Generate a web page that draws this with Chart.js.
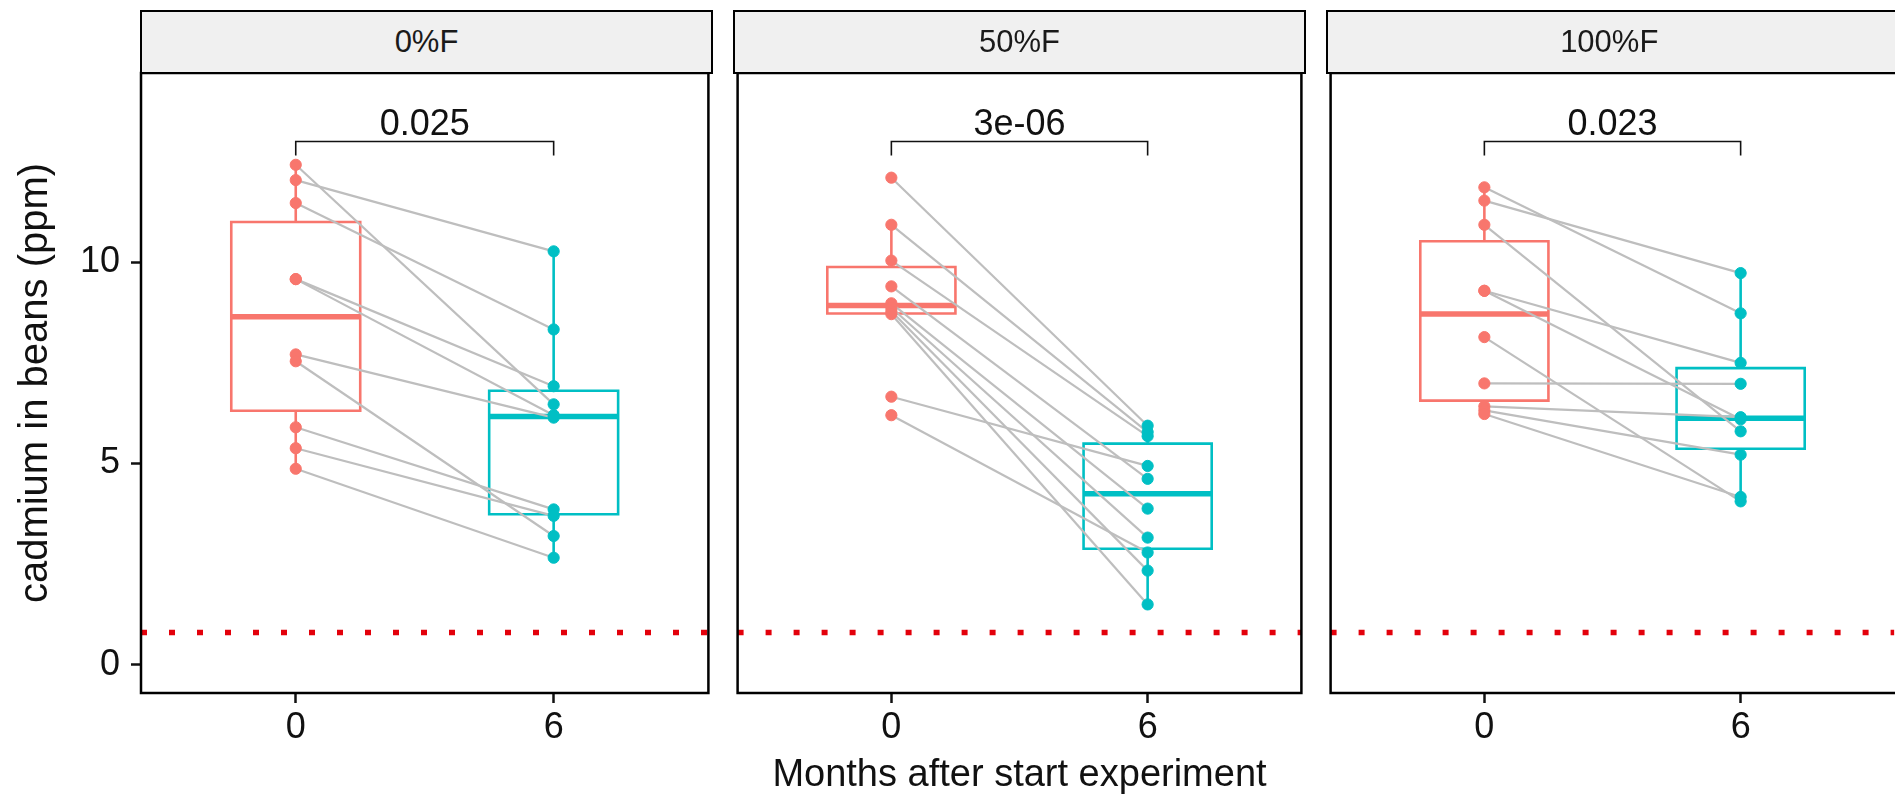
<!DOCTYPE html>
<html>
<head>
<meta charset="utf-8">
<script src="https://cdn.jsdelivr.net/npm/chart.js@4.4.1/dist/chart.umd.min.js"></script>
<style>
  html, body { margin: 0; padding: 0; background: #fff; overflow: hidden; }
  body { width: 1895px; height: 799px; position: relative; font-family: 'Liberation Sans', Arial, sans-serif; }
  .wrap { position: absolute; top: 0; height: 799px; overflow: hidden; }
  .wrap canvas { position: absolute; top: 0; left: 0; }
  .strip { position: absolute; top: 9.75px; height: 64.5px; box-sizing: border-box; border: 2.5px solid #000;
           background: #f0f0f0; display: flex; align-items: center; justify-content: center; font-size: 31px; color: #1a1a1a; z-index: 2; }
  #xtitle { position: absolute; top: 754px; left: 519.5px; width: 1000px; text-align: center; font-size: 38px; line-height: 38px; color: #111; z-index: 2; }
</style>
</head>
<body>
<div id="xtitle">Months after start experiment</div>
<script>
// facets, groups and ticks
const groups = ['0%F', '50%F', '100%F'];
const months = ['0', '6'];
const yTicks = [0, 5, 10];

// paired values (same index = same plant)
const before0 = [12.42, 12.04, 11.47, 9.58, 9.58, 7.71, 7.54, 5.90, 5.38, 4.87];
const after0 = [6.47, 10.27, 8.33, 6.92, 6.20, 6.14, 3.20, 3.86, 3.70, 2.66];
const before50 = [12.10, 10.93, 10.04, 9.40, 8.98, 8.87, 8.78, 8.71, 6.66, 6.20];
const after50 = [5.94, 5.78, 5.68, 4.62, 3.88, 3.16, 2.34, 1.50, 4.94, 2.79];
const before100 = [11.86, 11.53, 10.93, 9.29, 9.29, 8.14, 6.99, 6.42, 6.32, 6.23];
const after100 = [8.73, 9.73, 5.80, 7.50, 6.10, 4.06, 6.98, 6.15, 5.22, 4.17];

const pLabels = ['0.025', '3e-06', '0.023'];
const bracketY = 13.0;
const bracketTip = 12.65;
const limitLine = 0.8;

const beforeAll = [before0, before50, before100];
const afterAll = [after0, after50, after100];

const colors = ['#F8766D', '#00BFC4'];
const FONT = "'Liberation Sans', Arial, sans-serif";
const PAGE_W = 1895;
const panelLeft = [141, 734, 1327];
const panelW = 571;

function quantile(arr, p) {
  const s = [...arr].sort((a, b) => a - b);
  const h = (s.length - 1) * p, lo = Math.floor(h);
  const next = lo + 1 < s.length ? s[lo + 1] : s[lo];
  return s[lo] + (h - lo) * (next - s[lo]);
}

function boxStats(arr) {
  const q1 = quantile(arr, 0.25), med = quantile(arr, 0.5), q3 = quantile(arr, 0.75);
  const iqr = q3 - q1;
  const inside = arr.filter(v => v >= q1 - 1.5 * iqr && v <= q3 + 1.5 * iqr);
  return { q1, med, q3, lo: Math.min(...inside), hi: Math.max(...inside) };
}

function panelDatasets(before, after) {
  const ds = [];
  const series = [before, after];
  // points on top
  series.forEach((vals, g) => {
    ds.push({
      data: vals.map(v => ({ x: g + 1, y: v })),
      pointRadius: 5.6, pointBackgroundColor: colors[g], pointBorderColor: colors[g], pointBorderWidth: 1
    });
  });
  // grey lines joining the pairs
  before.forEach((v, k) => {
    ds.push({
      data: [{ x: 1, y: v }, { x: 2, y: after[k] }],
      showLine: true, borderColor: '#bebebe', borderWidth: 2.2, pointRadius: 0
    });
  });
  // boxes: whiskers, median, box outline
  series.forEach((vals, g) => {
    const b = boxStats(vals), c = g + 1, w = 0.25;
    const line = { showLine: true, borderColor: colors[g], pointRadius: 0, borderWidth: 2.6, fill: false };
    ds.push({ ...line, data: [{ x: c, y: b.q3 }, { x: c, y: b.hi }] });
    ds.push({ ...line, data: [{ x: c, y: b.q1 }, { x: c, y: b.lo }] });
    ds.push({ ...line, borderWidth: 5.5, data: [{ x: c - w, y: b.med }, { x: c + w, y: b.med }] });
    ds.push({ ...line, data: [
      { x: c - w, y: b.q1 }, { x: c + w, y: b.q1 }, { x: c + w, y: b.q3 },
      { x: c - w, y: b.q3 }, { x: c - w, y: b.q1 }, { x: c + w, y: b.q1 }] });
  });
  // significance bracket
  ds.push({
    data: [{ x: 1, y: bracketTip }, { x: 1, y: bracketY }, { x: 2, y: bracketY }, { x: 2, y: bracketTip }],
    showLine: true, borderColor: '#111', borderWidth: 1.6, pointRadius: 0
  });
  // dotted limit line
  ds.push({
    data: [{ x: 0.4, y: limitLine }, { x: 2.6, y: limitLine }],
    showLine: true, borderColor: '#e3000b', borderWidth: 5.5, borderDash: [6, 22], pointRadius: 0
  });
  return ds;
}

const bracketLabel = {
  id: 'bracketLabel',
  afterDatasetsDraw(chart, args, opts) {
    const { ctx, scales: { x, y } } = chart;
    ctx.save();
    ctx.font = '36px ' + FONT;
    ctx.fillStyle = '#111';
    ctx.textAlign = 'center';
    ctx.textBaseline = 'alphabetic';
    ctx.fillText(opts.text, x.getPixelForValue(1.5), y.getPixelForValue(bracketY) - 6);
    ctx.restore();
  }
};

// panel border; the last panel is cut by the page edge, so no right side there
const frame = {
  id: 'frame',
  afterDraw(chart, args, opts) {
    const { ctx, chartArea: a } = chart;
    ctx.save();
    ctx.strokeStyle = '#000';
    ctx.lineWidth = 2.5;
    ctx.lineCap = 'square';
    ctx.beginPath();
    if (opts.right) {
      ctx.strokeRect(a.left, a.top, a.right - a.left, a.bottom - a.top);
    } else {
      ctx.moveTo(a.right + 10, a.top);
      ctx.lineTo(a.left, a.top);
      ctx.lineTo(a.left, a.bottom);
      ctx.lineTo(a.right + 10, a.bottom);
      ctx.stroke();
    }
    ctx.restore();
  }
};

const tickGrid = { drawOnChartArea: false, drawTicks: true, tickLength: 10, tickWidth: 2.5, tickColor: '#111' };

groups.forEach((name, i) => {
  const first = i === 0;
  const padL = first ? 0 : 3;
  const canvasLeft = first ? 0 : panelLeft[i] - padL;
  const width = (first ? panelLeft[i] : padL) + panelW + 3;
  const cut = panelLeft[i] + panelW > PAGE_W;

  // wrapper keeps the last panel from spilling past the page edge
  const wrap = document.createElement('div');
  wrap.className = 'wrap';
  wrap.style.left = canvasLeft + 'px';
  wrap.style.width = Math.min(width, PAGE_W - canvasLeft) + 'px';
  const cv = document.createElement('canvas');
  cv.width = width;
  cv.height = 799;
  wrap.appendChild(cv);
  document.body.appendChild(wrap);

  const strip = document.createElement('div');
  strip.className = 'strip';
  const sLeft = panelLeft[i] - 1.25;
  const sW = panelW + 2.5;
  strip.style.left = sLeft + 'px';
  if (cut) {
    strip.style.width = (PAGE_W - sLeft) + 'px';
    strip.style.borderRight = 'none';
    strip.style.paddingRight = (sLeft + sW - PAGE_W) + 'px';
  } else {
    strip.style.width = sW + 'px';
  }
  strip.textContent = name;
  document.body.appendChild(strip);

  new Chart(cv.getContext('2d'), {
    type: 'scatter',
    data: { datasets: panelDatasets(beforeAll[i], afterAll[i]) },
    options: {
      responsive: false,
      animation: false,
      events: [],
      layout: { padding: { top: 73, left: padL, right: 3, bottom: 0 } },
      plugins: {
        legend: { display: false }, tooltip: { enabled: false },
        bracketLabel: { text: pLabels[i] }, frame: { right: !cut }
      },
      scales: {
        x: {
          type: 'linear', min: 0.4, max: 2.6,
          afterBuildTicks: ax => { ax.ticks = months.map((m, k) => ({ value: k + 1 })); },
          afterFit: ax => { ax.height = 106; },
          ticks: { callback: v => months[Math.round(v) - 1], color: '#111', font: { family: FONT, size: 36 }, padding: 3, autoSkip: false, maxRotation: 0 },
          grid: tickGrid,
          border: { display: false }
        },
        y: first ? {
          min: -0.7, max: 14.7,
          afterBuildTicks: ax => { ax.ticks = yTicks.map(v => ({ value: v })); },
          afterFit: ax => { ax.width = panelLeft[0]; },
          ticks: { color: '#111', font: { family: FONT, size: 36 }, padding: 11 },
          grid: tickGrid,
          border: { display: false },
          title: { display: true, text: 'cadmium in beans (ppm)', color: '#111', font: { family: FONT, size: 40 }, padding: { top: 12, bottom: 0 } }
        } : { display: false, min: -0.7, max: 14.7 }
      }
    },
    plugins: [bracketLabel, frame]
  });
});
</script>
</body>
</html>
